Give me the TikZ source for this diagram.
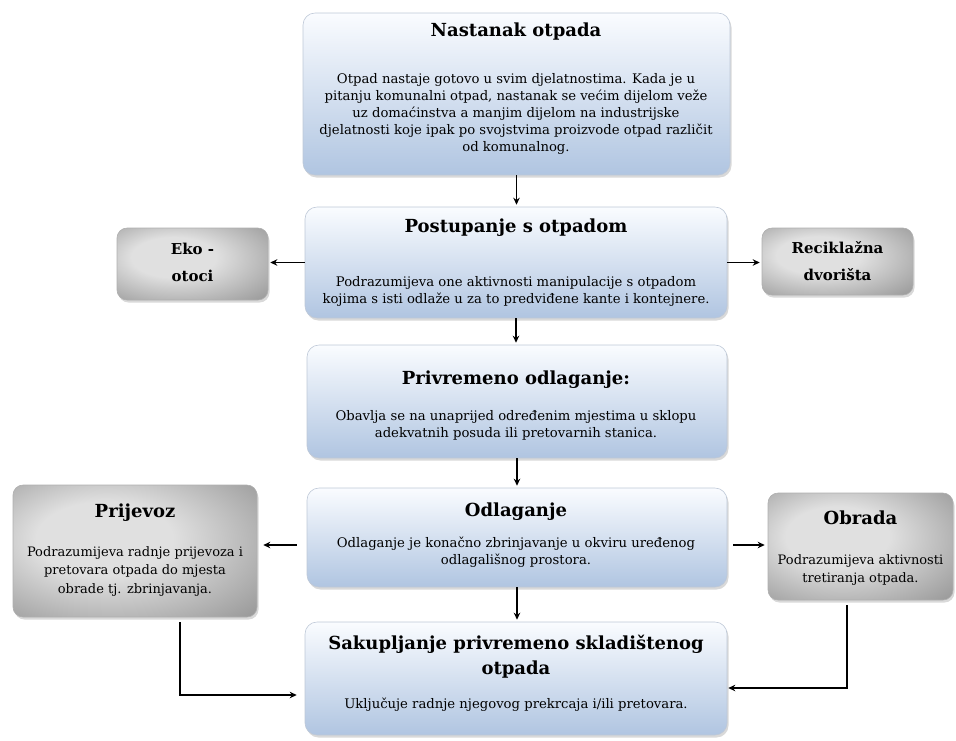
\documentclass[tikz,border=0pt]{standalone}
\usepackage{fontspec}
\setmainfont{DejaVu Serif}
\usetikzlibrary{arrows.meta,shadows,calc}
\definecolor{bluetop}{RGB}{250,252,255}
\definecolor{bluebot}{RGB}{176,197,225}
\definecolor{blueedge}{RGB}{190,200,215}
\definecolor{grayedge}{RGB}{175,175,175}
\definecolor{gin}{RGB}{224,224,224}
\definecolor{gmid}{RGB}{155,155,155}
\definecolor{gout}{RGB}{68,68,68}
\pgfdeclareradialshading{grayrad}{\pgfpoint{-8bp}{6bp}}{color(0bp)=(gin); color(14bp)=(gin); color(38bp)=(gmid); color(64bp)=(gout)}
\tikzset{
  bluebox/.style={draw=blueedge, line width=0.6pt, rounded corners=12pt,
    top color=bluetop, bottom color=bluebot,
    drop shadow={opacity=0.3, shadow xshift=1.5pt, shadow yshift=-2.5pt},
    inner sep=0pt},
  graybox/.style={draw=grayedge, line width=0.6pt, rounded corners=10pt,
    shading=grayrad,
    drop shadow={opacity=0.3, shadow xshift=1.5pt, shadow yshift=-2.5pt},
    inner sep=0pt},
  ttl/.style={font=\fontsize{18}{25}\selectfont\bfseries, align=center, inner sep=0pt},
  gttl/.style={font=\fontsize{15}{27}\selectfont\bfseries, align=center, inner sep=0pt},
  bdy/.style={font=\fontsize{13.2}{17}\selectfont, align=center, inner sep=0pt},
  gbdy/.style={font=\fontsize{13}{18.5}\selectfont, align=center, inner sep=0pt},
  arr/.style={line width=1.7pt, -{Stealth[length=7pt,width=6.5pt]}}
}
\begin{document}
\begin{tikzpicture}[x=1pt,y=-1pt]
\useasboundingbox (0,0) rectangle (956,740);
% main column boxes
\node[bluebox, minimum width=427, minimum height=162] (n1) at (516.5,94) {};
\node[bluebox, minimum width=422, minimum height=111] (n2) at (516,262.5) {};
\node[bluebox, minimum width=420, minimum height=113] (n3) at (517,401.5) {};
\node[bluebox, minimum width=420, minimum height=99] (n4) at (517,537.5) {};
\node[bluebox, minimum width=422, minimum height=113] (n5) at (516,678.5) {};
% side boxes
\node[graybox, minimum width=151, minimum height=72] (eko) at (192.5,264) {};
\node[graybox, minimum width=151, minimum height=67] (rec) at (837.5,261.5) {};
\node[graybox, minimum width=244, minimum height=132] (prij) at (135,551) {};
\node[graybox, minimum width=185, minimum height=107] (obr) at (860.5,546.5) {};
% texts
\node[ttl] (t1) at (516,32) {Nastanak otpada};
\node[bdy] (b1) at (516,114) {Otpad nastaje gotovo u svim djelatnostima. Kada je u\\pitanju komunalni otpad, nastanak se većim dijelom veže\\uz domaćinstva a manjim dijelom na industrijske\\djelatnosti koje ipak po svojstvima proizvode otpad različit\\od komunalnog.};
\node[ttl] (t2) at (516,228) {Postupanje s otpadom};
\node[bdy] (b2) at (516,291) {Podrazumijeva one aktivnosti manipulacije s otpadom\\kojima s isti odlaže u za to predviđene kante i kontejnere.};
\node[ttl] (t3) at (516,380) {Privremeno odlaganje:};
\node[bdy] (b3) at (516,425) {Obavlja se na unaprijed određenim mjestima u sklopu\\adekvatnih posuda ili pretovarnih stanica.};
\node[ttl] (t4) at (516,512) {Odlaganje};
\node[bdy] (b4) at (516,552) {Odlaganje je konačno zbrinjavanje u okviru uređenog\\odlagališnog prostora.};
\node[ttl] (t5) at (516,657) {Sakupljanje privremeno skladištenog\\otpada};
\node[bdy] (b5) at (516,705) {Uključuje radnje njegovog prekrcaja i/ili pretovara.};
\node[gttl] (teko) at (192.5,262) {Eko -\\otoci};
\node[gttl] (trec) at (837.5,261.5) {Reciklažna\\dvorišta};
\node[ttl] (tprij) at (135,513) {Prijevoz};
\node[gbdy] (bprij) at (135,571) {Podrazumijeva radnje prijevoza i\\pretovara otpada do mjesta\\obrade tj. zbrinjavanja.};
\node[ttl] (tobr) at (860.5,518) {Obrada};
\node[gbdy] (bobr) at (860.5,570) {Podrazumijeva aktivnosti\\tretiranja otpada.};
% connectors
\draw[arr, shorten >=2pt] (n1.south) -- (n1.south |- n2.north);
\draw[arr, shorten >=2pt] (n2.south) -- (n2.south |- n3.north);
\draw[arr, shorten >=2pt] (n3.south) -- (n3.south |- n4.north);
\draw[arr, shorten >=2pt] (n4.south) -- (n4.south |- n5.north);
\draw[arr, shorten >=2pt] (n2.west) -- (n2.west -| eko.east);
\draw[arr, shorten >=2pt] (n2.east) -- (n2.east -| rec.west);
\draw[arr, shorten <=10pt, shorten >=6pt] ([yshift=-7.5pt]n4.west) -- ([yshift=-7.5pt]n4.west -| prij.east);
\draw[arr, shorten <=6pt, shorten >=3pt] ([yshift=-7.5pt]n4.east) -- ([yshift=-7.5pt]n4.east -| obr.west);
\draw[arr, shorten >=8pt] ([xshift=45pt,yshift=-5pt]prij.south) |- ([yshift=-16.5pt]n5.west);
\draw[arr, shorten >=1pt] ([xshift=-13.5pt,yshift=-5pt]obr.south) |- ([yshift=-9.5pt]n5.east);
\end{tikzpicture}
\end{document}
